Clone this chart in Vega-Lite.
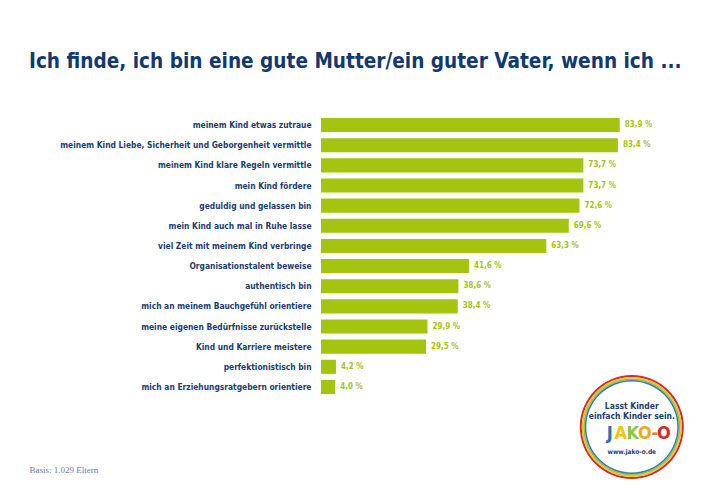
{
  "$schema": "https://vega.github.io/schema/vega-lite/v6.json",
  "background": "white",
  "padding": {"left": 29, "top": 52, "right": 0, "bottom": 0},
  "config": {
    "view": {"stroke": null},
    "locale": {"number": {"decimal": ",", "thousands": ".", "grouping": [3], "currency": ["", " €"], "percent": " %"}},
    "font": "DejaVu Sans Condensed, Roboto, sans-serif"
  },
  "title": {
    "text": "Ich finde, ich bin eine gute Mutter/ein guter Vater, wenn ich ...",
    "anchor": "start",
    "frame": "bounds",
    "font": "DejaVu Sans Condensed, Roboto, sans-serif",
    "fontSize": 20.6,
    "fontWeight": "bold",
    "color": "#12396f",
    "offset": 42
  },
  "bounds": "flush",
  "spacing": 0,
  "resolve": {"scale": {"x": "shared"}},
  "vconcat": [
    {
      "width": 356,
      "height": 282,
      "data": {"values": [
        {"aussage": "meinem Kind etwas zutraue", "anteil": 0.839},
        {"aussage": "meinem Kind Liebe, Sicherheit und Geborgenheit vermittle", "anteil": 0.834},
        {"aussage": "meinem Kind klare Regeln vermittle", "anteil": 0.737},
        {"aussage": "mein Kind fördere", "anteil": 0.737},
        {"aussage": "geduldig und gelassen bin", "anteil": 0.726},
        {"aussage": "mein Kind auch mal in Ruhe lasse", "anteil": 0.696},
        {"aussage": "viel Zeit mit meinem Kind verbringe", "anteil": 0.633},
        {"aussage": "Organisationstalent beweise", "anteil": 0.416},
        {"aussage": "authentisch bin", "anteil": 0.386},
        {"aussage": "mich an meinem Bauchgefühl orientiere", "anteil": 0.384},
        {"aussage": "meine eigenen Bedürfnisse zurückstelle", "anteil": 0.299},
        {"aussage": "Kind und Karriere meistere", "anteil": 0.295},
        {"aussage": "perfektionistisch bin", "anteil": 0.042},
        {"aussage": "mich an Erziehungsratgebern orientiere", "anteil": 0.040}
      ]},
      "encoding": {
        "y": {
          "field": "aussage", "type": "nominal", "sort": null,
          "scale": {"paddingInner": 0.3, "paddingOuter": 0.15},
          "axis": {"title": null, "ticks": false, "domain": false, "labelPadding": 10, "labelFontSize": 8.4, "labelFontWeight": "bold", "labelColor": "#1b3d72", "labelLimit": 400, "labelFont": "DejaVu Sans Condensed, Roboto, sans-serif"}
        },
        "x": {
          "field": "anteil", "type": "quantitative",
          "scale": {"domain": [0, 1]},
          "axis": {"labels": false, "ticks": false, "domain": false, "grid": false,
            "title": "Basis: 1.029 Eltern", "titleFont": "Liberation Serif", "titleFontSize": 9, "titleFontWeight": "normal", "titleColor": "#6a7da5",
            "titleAlign": "left", "titleAnchor": "start", "titleX": -292, "titleY": 72, "titleBaseline": "middle"}
        }
      },
      "layer": [
        {"mark": {"type": "bar", "color": "#a4c40f"}},
        {"mark": {"type": "text", "align": "left", "baseline": "middle", "dx": 5, "fontSize": 8, "fontWeight": "bold", "color": "#a4c40f"},
         "encoding": {"text": {"field": "anteil", "type": "quantitative", "format": ".1%"}}}
      ]
    },
    {
      "width": 356,
      "height": 60,
      "data": {"values": [{"logo": "JAKO-O"}]},
      "encoding": {"x": {"datum": 0.873, "type": "quantitative", "scale": {"domain": [0, 1]}, "axis": null}},
      "layer": [
        {"mark": {"type": "arc", "theta": 0, "theta2": 6.2832, "radius": 52, "radius2": 50, "color": "#d62a2f"}},
        {"mark": {"type": "arc", "theta": 0, "theta2": 6.2832, "radius": 50, "radius2": 48.5, "color": "#f2c21b"}},
        {"mark": {"type": "arc", "theta": 0, "theta2": 6.2832, "radius": 48.5, "radius2": 47, "color": "#8cc63f"}},
        {"mark": {"type": "arc", "theta": 0, "theta2": 6.2832, "radius": 47, "radius2": 45.5, "color": "#3a77b5"}},
        {"mark": {"type": "text", "text": "Lasst Kinder", "dy": -21, "fontSize": 8.5, "fontWeight": "bold", "color": "#1b3d72"}},
        {"mark": {"type": "text", "text": "einfach Kinder sein.", "dy": -11, "fontSize": 8.5, "fontWeight": "bold", "color": "#1b3d72"}},
        {"mark": {"type": "text", "text": "J", "dx": -22, "dy": 7, "fontSize": 18, "fontWeight": "bold", "color": "#2f6db3"}},
        {"mark": {"type": "text", "text": "A", "dx": -11, "dy": 7, "fontSize": 18, "fontWeight": "bold", "color": "#f2c21b"}},
        {"mark": {"type": "text", "text": "K", "dx": 1, "dy": 7, "fontSize": 18, "fontWeight": "bold", "color": "#8cc63f"}},
        {"mark": {"type": "text", "text": "O", "dx": 13, "dy": 7, "fontSize": 18, "fontWeight": "bold", "color": "#f0a81c"}},
        {"mark": {"type": "text", "text": "-", "dx": 23, "dy": 7, "fontSize": 18, "fontWeight": "bold", "color": "#ee7d1a"}},
        {"mark": {"type": "text", "text": "O", "dx": 32, "dy": 7, "fontSize": 18, "fontWeight": "bold", "color": "#d62a2f"}},
        {"mark": {"type": "text", "text": "www.jako-o.de", "dy": 25, "fontSize": 6.5, "fontWeight": "bold", "color": "#1b3d72"}}
      ]
    }
  ]
}
